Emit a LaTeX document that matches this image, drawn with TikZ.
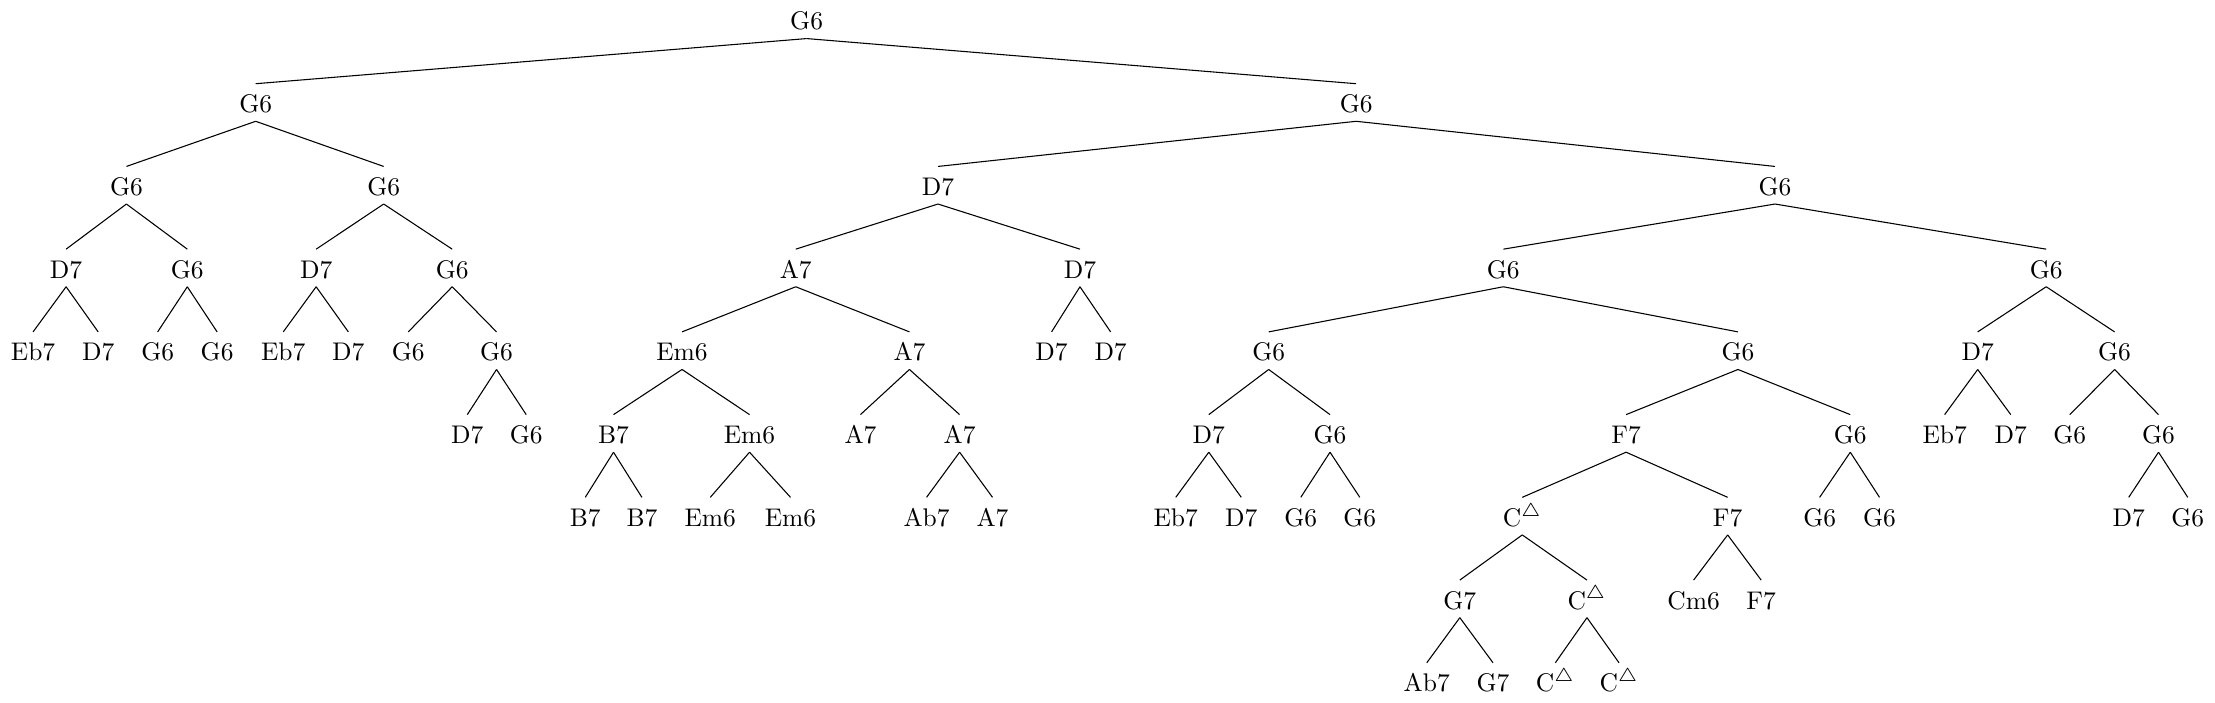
\documentclass[tikz,border=0pt]{standalone}
\begin{document}
\begin{tikzpicture}[x=0.0185cm, y=-1.083cm, font=\fontsize{9.5}{11}\selectfont, chord/.style={inner sep=3pt, text height=7.6pt, text depth=0pt}]

\useasboundingbox (0,-0.239) rectangle (1568,8.256);

% level 0 and 1
\node[chord] (root) at (571,0) {G6};
\node[chord] (l) at (181,1) {G6};
\node[chord] (r) at (960,1) {G6};

% level 2
\node[chord] (ll) at (89.5,2) {G6};
\node[chord] (lr) at (271.6,2) {G6};
\node[chord] (rl) at (664,2) {D7};
\node[chord] (rr) at (1256.5,2) {G6};

% level 3
\node[chord] (lll) at (46.8,3) {D7};
\node[chord] (llr) at (132.6,3) {G6};
\node[chord] (lrl) at (223.8,3) {D7};
\node[chord] (lrr) at (320.1,3) {G6};
\node[chord] (rll) at (563.3,3) {A7};
\node[chord] (rlr) at (764.5,3) {D7};
\node[chord] (rrl) at (1064.2,3) {G6};
\node[chord] (rrr) at (1448.5,3) {G6};

% level 4
\node[chord] (llll) at (23.4,4) {Eb7};
\node[chord] (lllr) at (69.5,4) {D7};
\node[chord] (llrl) at (111.6,4) {G6};
\node[chord] (llrr) at (153.7,4) {G6};
\node[chord] (lrll) at (200.5,4) {Eb7};
\node[chord] (lrlr) at (246.6,4) {D7};
\node[chord] (lrrl) at (289,4) {G6};
\node[chord] (lrrr) at (351.5,4) {G6};
\node[chord] (rlll) at (482.8,4) {Em6};
\node[chord] (rllr) at (643.8,4) {A7};
\node[chord] (rlrl) at (744.4,4) {D7};
\node[chord] (rlrr) at (786.2,4) {D7};
\node[chord] (rrll) at (898.1,4) {G6};
\node[chord] (rrlr) at (1230.3,4) {G6};
\node[chord] (rrrl) at (1400,4) {D7};
\node[chord] (rrrr) at (1496.9,4) {G6};

% level 5
\node[chord] (lrrrl) at (330.8,5) {D7};
\node[chord] (lrrrr) at (372.5,5) {G6};
\node[chord] (rllll) at (434.3,5) {B7};
\node[chord] (rlllr) at (530.6,5) {Em6};
\node[chord] (rllrl) at (609.1,5) {A7};
\node[chord] (rllrr) at (679.3,5) {A7};
\node[chord] (rrlll) at (855.7,5) {D7};
\node[chord] (rrllr) at (941.5,5) {G6};
\node[chord] (rrlrl) at (1151.1,5) {F7};
\node[chord] (rrlrr) at (1309.8,5) {G6};
\node[chord] (rrrll) at (1376.6,5) {Eb7};
\node[chord] (rrrlr) at (1423.4,5) {D7};
\node[chord] (rrrrl) at (1465.2,5) {G6};
\node[chord] (rrrrr) at (1528,5) {G6};

% level 6
\node[chord] (rlllll) at (414.3,6) {B7};
\node[chord] (rllllr) at (454.4,6) {B7};
\node[chord] (rlllrl) at (502.8,6) {Em6};
\node[chord] (rlllrr) at (559.6,6) {Em6};
\node[chord] (rllrrl) at (655.9,6) {Ab7};
\node[chord] (rllrrr) at (702.6,6) {A7};
\node[chord] (rrllll) at (832.3,6) {Eb7};
\node[chord] (rrlllr) at (878.7,6) {D7};
\node[chord] (rrllrl) at (920.8,6) {G6};
\node[chord] (rrllrr) at (962.6,6) {G6};
\node[chord] (rrlrll) at (1077.6,6) {C$^\triangle$};
\node[chord] (rrlrlr) at (1223,6) {F7};
\node[chord] (rrlrrl) at (1288.1,6) {G6};
\node[chord] (rrlrrr) at (1330.5,6) {G6};
\node[chord] (rrrrrl) at (1506.9,6) {D7};
\node[chord] (rrrrrr) at (1548.7,6) {G6};

% level 7 and 8
\node[chord] (rrlrlll) at (1033.4,7) {G7};
\node[chord] (rrlrllr) at (1123.4,7) {C$^\triangle$};
\node[chord] (rrlrlrl) at (1198.9,7) {Cm6};
\node[chord] (rrlrlrr) at (1246.7,7) {F7};
\node[chord] (rrlrllll) at (1010,8) {Ab7};
\node[chord] (rrlrlllr) at (1056.9,8) {G7};
\node[chord] (rrlrllrl) at (1101,8) {C$^\triangle$};
\node[chord] (rrlrllrr) at (1146.1,8) {C$^\triangle$};

\draw (root.south) -- (l.north);
\draw (root.south) -- (r.north);
\draw (l.south) -- (ll.north);
\draw (l.south) -- (lr.north);
\draw (r.south) -- (rl.north);
\draw (r.south) -- (rr.north);
\draw (ll.south) -- (lll.north);
\draw (ll.south) -- (llr.north);
\draw (lr.south) -- (lrl.north);
\draw (lr.south) -- (lrr.north);
\draw (rl.south) -- (rll.north);
\draw (rl.south) -- (rlr.north);
\draw (rr.south) -- (rrl.north);
\draw (rr.south) -- (rrr.north);
\draw (lll.south) -- (llll.north);
\draw (lll.south) -- (lllr.north);
\draw (llr.south) -- (llrl.north);
\draw (llr.south) -- (llrr.north);
\draw (lrl.south) -- (lrll.north);
\draw (lrl.south) -- (lrlr.north);
\draw (lrr.south) -- (lrrl.north);
\draw (lrr.south) -- (lrrr.north);
\draw (rll.south) -- (rlll.north);
\draw (rll.south) -- (rllr.north);
\draw (rlr.south) -- (rlrl.north);
\draw (rlr.south) -- (rlrr.north);
\draw (rrl.south) -- (rrll.north);
\draw (rrl.south) -- (rrlr.north);
\draw (rrr.south) -- (rrrl.north);
\draw (rrr.south) -- (rrrr.north);
\draw (lrrr.south) -- (lrrrl.north);
\draw (lrrr.south) -- (lrrrr.north);
\draw (rlll.south) -- (rllll.north);
\draw (rlll.south) -- (rlllr.north);
\draw (rllr.south) -- (rllrl.north);
\draw (rllr.south) -- (rllrr.north);
\draw (rrll.south) -- (rrlll.north);
\draw (rrll.south) -- (rrllr.north);
\draw (rrlr.south) -- (rrlrl.north);
\draw (rrlr.south) -- (rrlrr.north);
\draw (rrrl.south) -- (rrrll.north);
\draw (rrrl.south) -- (rrrlr.north);
\draw (rrrr.south) -- (rrrrl.north);
\draw (rrrr.south) -- (rrrrr.north);
\draw (rllll.south) -- (rlllll.north);
\draw (rllll.south) -- (rllllr.north);
\draw (rlllr.south) -- (rlllrl.north);
\draw (rlllr.south) -- (rlllrr.north);
\draw (rllrr.south) -- (rllrrl.north);
\draw (rllrr.south) -- (rllrrr.north);
\draw (rrlll.south) -- (rrllll.north);
\draw (rrlll.south) -- (rrlllr.north);
\draw (rrllr.south) -- (rrllrl.north);
\draw (rrllr.south) -- (rrllrr.north);
\draw (rrlrl.south) -- (rrlrll.north);
\draw (rrlrl.south) -- (rrlrlr.north);
\draw (rrlrr.south) -- (rrlrrl.north);
\draw (rrlrr.south) -- (rrlrrr.north);
\draw (rrrrr.south) -- (rrrrrl.north);
\draw (rrrrr.south) -- (rrrrrr.north);
\draw (rrlrll.south) -- (rrlrlll.north);
\draw (rrlrll.south) -- (rrlrllr.north);
\draw (rrlrlr.south) -- (rrlrlrl.north);
\draw (rrlrlr.south) -- (rrlrlrr.north);
\draw (rrlrlll.south) -- (rrlrllll.north);
\draw (rrlrlll.south) -- (rrlrlllr.north);
\draw (rrlrllr.south) -- (rrlrllrl.north);
\draw (rrlrllr.south) -- (rrlrllrr.north);

\end{tikzpicture}
\end{document}
